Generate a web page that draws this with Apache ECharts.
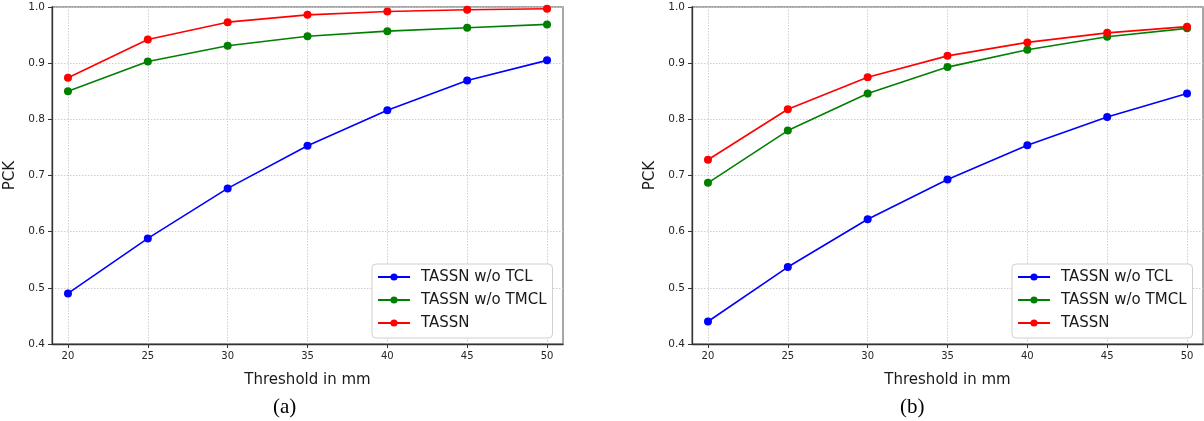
<!DOCTYPE html>
<html>
<head>
<meta charset="utf-8">
<script src="https://cdn.jsdelivr.net/npm/echarts@6/dist/echarts.min.js"></script>
<style>
html,body{margin:0;padding:0;background:#fff;}
#chart{width:1204px;height:421px;}
</style>
</head>
<body>
<div id="chart"></div>
<script>
const thresholds = [20, 25, 30, 35, 40, 45, 50];
const seriesNames = ['TASSN w/o TCL', 'TASSN w/o TMCL', 'TASSN'];
const colors = ['#0000ff', '#008000', '#ff0000'];
// panel (a)
const a_noTCL  = [0.490, 0.588, 0.677, 0.753, 0.816, 0.869, 0.905];
const a_noTMCL = [0.850, 0.903, 0.931, 0.948, 0.957, 0.963, 0.969];
const a_full   = [0.874, 0.942, 0.973, 0.986, 0.992, 0.995, 0.997];
// panel (b)
const b_noTCL  = [0.440, 0.537, 0.622, 0.693, 0.754, 0.804, 0.846];
const b_noTMCL = [0.687, 0.780, 0.846, 0.893, 0.924, 0.947, 0.962];
const b_full   = [0.728, 0.818, 0.875, 0.913, 0.937, 0.954, 0.965];
const yTicks = [0.4, 0.5, 0.6, 0.7, 0.8, 0.9, 1.0];
const panelLabels = ['(a)', '(b)'];
const xName = 'Threshold in mm';
const yName = 'PCK';

const panels = [[a_noTCL, a_noTMCL, a_full], [b_noTCL, b_noTMCL, b_full]];
const gridLefts = [52, 692];
const gridW = 511;

const chart = echarts.init(document.getElementById('chart'), null, {renderer: 'canvas'});
const font = 'DejaVu Sans';

const grids = [], xAxes = [], yAxes = [], series = [], legends = [], graphics = [];
panels.forEach((panel, p) => {
  grids.push({left: gridLefts[p], top: 7, width: gridW, height: 337, show: true,
    borderColor: '#8a8a8a', borderWidth: 1.5, backgroundColor: 'transparent', containLabel: false});
  xAxes.push({
    type: 'value', gridIndex: p, min: 19, max: 51,
    name: xName, nameLocation: 'middle', nameGap: 29,
    nameTextStyle: {fontFamily: font, fontSize: 15, color: '#1a1a1a'},
    axisLine: {show: true, lineStyle: {color: '#333', width: 1.3}},
    axisTick: {show: true, inside: false, length: 4, lineStyle: {color: '#333'}, customValues: thresholds},
    axisLabel: {show: true, margin: 7, fontFamily: font, fontSize: 10, color: '#262626', customValues: thresholds},
    splitLine: {show: true, lineStyle: {color: '#c8c8c8', type: [1.5, 1.5], width: 0.9}}
  });
  yAxes.push({
    type: 'value', gridIndex: p, min: 0.4, max: 1.0, interval: 0.1,
    name: yName, nameLocation: 'middle', nameGap: 34, nameRotate: 90,
    nameTextStyle: {fontFamily: font, fontSize: 15, color: '#1a1a1a'},
    axisLine: {show: true, lineStyle: {color: '#333', width: 1.3}},
    axisTick: {show: true, inside: false, length: 4, lineStyle: {color: '#333'}},
    axisLabel: {show: true, margin: 7, fontFamily: font, fontSize: 10.5, color: '#262626',
      formatter: v => v.toFixed(1)},
    splitLine: {show: true, lineStyle: {color: '#c8c8c8', type: [1.5, 1.5], width: 0.9}}
  });
  panel.forEach((vals, i) => {
    series.push({
      name: seriesNames[i], type: 'line', xAxisIndex: p, yAxisIndex: p,
      data: thresholds.map((t, k) => [t, vals[k]]),
      symbol: 'circle', symbolSize: 8, showSymbol: true,
      lineStyle: {color: colors[i], width: 1.6},
      itemStyle: {color: colors[i]},
      emphasis: {disabled: true},
      animation: false, z: 3 + i
    });
  });
  legends.push({
    orient: 'vertical', left: gridLefts[p] + 320, top: 264,
    data: seriesNames,
    backgroundColor: '#fff', borderColor: '#d0d0d0', borderWidth: 1, borderRadius: 4,
    padding: [4, 6, 6, 5], itemGap: 5, itemWidth: 32, itemHeight: 9,
    textStyle: {fontFamily: font, fontSize: 15, color: '#1a1a1a', lineHeight: 18, padding: [0, 0, 0, 6]},
    selectedMode: false
  });
  graphics.push({
    type: 'text', left: (p === 0 ? 287 : 914) - 14, top: 397,
    style: {text: panelLabels[p], font: '21px "Liberation Serif"', fill: '#000'}
  });
});

chart.setOption({
  animation: false,
  backgroundColor: '#fff',
  grid: grids, xAxis: xAxes, yAxis: yAxes, series: series, legend: legends, graphic: graphics
});
</script>
</body>
</html>
